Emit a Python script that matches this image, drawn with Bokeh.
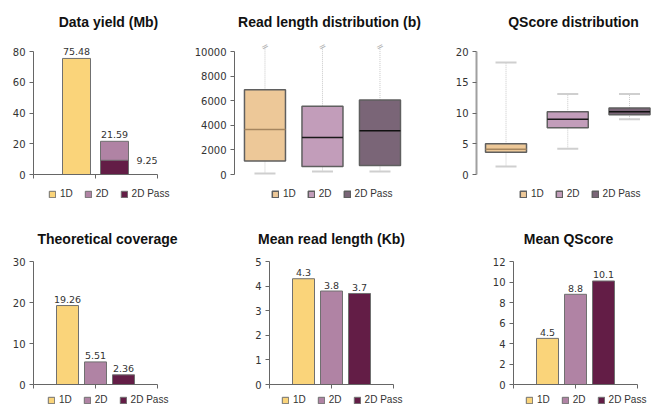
from bokeh.plotting import figure
from bokeh.layouts import column, row
from bokeh.models import (Range1d, FixedTicker, Legend, LegendItem, Label,
                          ColumnDataSource, LinearAxis, CustomLabelingPolicy)
from bokeh.embed import file_html
from bokeh.resources import INLINE
from bokeh.core.properties import value

# ---------------- data ----------------
categories = ["1D", "2D", "2D Pass"]

yield_mb = [75.48, 21.59, 9.25]
yield_ticks = [0, 20, 40, 60, 80]

coverage = [19.26, 5.51, 2.36]
coverage_ticks = [0, 10, 20, 30]

mean_len_kb = [4.3, 3.8, 3.7]
mean_len_ticks = [0, 1, 2, 3, 4, 5]

mean_q = [4.5, 8.8, 10.1]
mean_q_ticks = [0, 2, 4, 6, 8, 10, 12]

# read length distribution (b): whiskers run off the top of the scale (axis break)
len_low = [80, 240, 240]
len_q1 = [1100, 650, 730]
len_med = [3650, 3000, 3550]
len_q3 = [6900, 5550, 6050]
len_high = [10400, 10400, 10400]
len_ticks = [0, 2000, 4000, 6000, 8000, 10000]

q_low = [1.3, 4.2, 9.0]
q_q1 = [3.6, 7.6, 9.7]
q_med = [4.1, 9.0, 10.2]
q_q3 = [5.0, 10.2, 10.8]
q_high = [18.2, 13.1, 13.1]
q_ticks = [0, 5, 10, 15, 20]

titles = ["Data yield (Mb)", "Read length distribution (b)", "QScore distribution",
          "Theoretical coverage", "Mean read length (Kb)", "Mean QScore"]

# ---------------- style ----------------
BAR_COLORS = ["#FAD47A", "#B083A4", "#631D46"]
BOX_COLORS = ["#EDC898", "#C29DBA", "#7A6577"]
MED_COLORS = ["#A6865F", "#1A1A1A", "#111111"]
TITLE_FONT = "Liberation Sans"
TICK_FONT = "DejaVu Sans"
LEG_FONT = "Liberation Sans"
W, H = 658, 405


def style_axis(ax, ticks, labels=True, color="#666666", width=1):
    ax.ticker = FixedTicker(ticks=ticks)
    ax.minor_tick_line_color = None
    ax.major_tick_in = 0
    ax.major_tick_out = 4
    ax.axis_line_color = color
    ax.axis_line_width = width
    ax.major_tick_line_color = "#666666"
    ax.major_label_text_font = TICK_FONT
    ax.major_label_text_color = "#333333"
    if labels:
        ax.major_label_standoff = 4
        ax.major_label_text_font_size = "10px"
    else:
        ax.major_label_standoff = 0
        ax.major_label_text_font_size = "1px"
        ax.major_label_policy = CustomLabelingPolicy(code="return new Set()")


def make_fig(box, axis_left, x_left_val, x_unit, zero_px, top_px, ticks,
             title, title_cx, title_cy, axis_color="#666666", axis_width=1):
    """Frame spans the whole box.  x: x_left_val at page px axis_left (x_unit px per
    unit); y: 0 at page px zero_px, ticks[-1] at page px top_px."""
    x0, y0, x1, y1 = box
    unit = ticks[-1] / float(zero_px - top_px)
    yr = (-(y1 - zero_px) * unit, (zero_px - y0) * unit)
    xr = (x_left_val - (axis_left - x0) / x_unit, x_left_val + (x1 - axis_left) / x_unit)
    p = figure(width=x1 - x0, height=y1 - y0,
               x_range=Range1d(*xr), y_range=Range1d(*yr),
               output_backend="svg", toolbar_location=None,
               min_border_left=0, min_border_right=0,
               min_border_top=0, min_border_bottom=0,
               x_axis_type=None, y_axis_type=None)
    p.outline_line_color = None
    p.background_fill_color = "white"
    p.border_fill_color = "white"
    p.add_layout(Label(x=title_cx - x0, y=y1 - title_cy, x_units="screen",
                       y_units="screen", text=title, text_align="center",
                       text_baseline="middle", text_font=TITLE_FONT,
                       text_font_size="14px", text_font_style="bold",
                       text_color="#111111"))
    ya = LinearAxis(fixed_location=x_left_val)
    style_axis(ya, ticks, color=axis_color, width=axis_width)
    ya.bounds = (0, ticks[-1])
    p.add_layout(ya, "left")
    return p


def add_x_axis(p, lo, hi):
    xa = LinearAxis(fixed_location=0)
    style_axis(xa, [lo, (lo + hi) / 2, hi], labels=False)
    xa.bounds = (lo, hi)
    p.add_layout(xa, "below")


def add_legend(p, renderers, indices, vx, vy):
    items = []
    for cat, r, idx in zip(categories, renderers, indices):
        if idx is None:
            items.append(LegendItem(label=cat, renderers=[r]))
        else:
            items.append(LegendItem(label=cat, renderers=[r], index=idx))
    leg = Legend(items=items, orientation="horizontal", location=(vx, vy),
                 glyph_width=8, glyph_height=8, label_standoff=4, spacing=11,
                 padding=0, margin=0, border_line_alpha=0, background_fill_alpha=0,
                 label_text_font=LEG_FONT, label_text_font_size="10px",
                 label_text_color="#333333", label_height=8, label_width=0)
    p.add_layout(leg)


def label_style():
    return dict(text_font=value(TICK_FONT), text_font_size="9.5px",
                text_color="#333333")


def bar_panel(box, axis_left, vals, ticks, title, tcx, leg_left):
    half = 62 / 28.0
    p = make_fig(box, axis_left, 1 - half, 28.0, 384, 261, ticks, title, tcx, 238)
    xs = list(range(len(vals)))
    src = ColumnDataSource(dict(x=xs, top=vals, color=BAR_COLORS,
                                lab=[f"{v:g}" for v in vals]))
    r = p.vbar(x="x", top="top", bottom=0, width=22 / 28, fill_color="color",
               line_color="#707070", line_width=1, source=src)
    p.text(x="x", y="top", text="lab", source=src, text_align="center",
           text_baseline="alphabetic", y_offset=-6, **label_style())
    add_x_axis(p, 1 - half, 1 + half)
    add_legend(p, [r, r, r], [0, 1, 2], leg_left - box[0], 0)
    return p


# ---------------- panel 1: data yield ----------------
unit1 = 38.0
half1 = 62 / unit1
p1 = make_fig((0, 0, 192, 205), 33, 0.5 - half1, unit1, 174, 51, yield_ticks,
              titles[0], 108, 21)
pos1 = {"1D": 0, "2D": 1, "2D Pass": 1}
bw1 = 28 / unit1
rends1 = []
for cat, v, c in zip(categories, yield_mb, BAR_COLORS):
    rends1.append(p1.vbar(x=[pos1[cat]], top=[v], bottom=0, width=bw1, fill_color=c,
                          line_color="#707070", line_width=1))
p1.text(x=[pos1[c] for c in categories[:2]], y=yield_mb[:2],
        text=[f"{v:g}" for v in yield_mb[:2]], text_align="center",
        text_baseline="alphabetic", y_offset=-7, **label_style())
p1.text(x=[pos1["2D Pass"] + bw1 / 2], y=[yield_mb[2]], text=[f"{yield_mb[2]:g}"],
        text_align="left", text_baseline="middle", x_offset=8, **label_style())
add_x_axis(p1, 0.5 - half1, 0.5 + half1)
add_legend(p1, rends1, [None, None, None], 48, 6)


def box_panel(p, low, q1, med, q3, high, bw, cw, caps_top=True):
    xs = list(range(len(categories)))
    src = ColumnDataSource(dict(x=xs, low=low, q1=q1, med=med, q3=q3, high=high,
                                color=BOX_COLORS, mcol=MED_COLORS,
                                l=[x - bw / 2 for x in xs], r=[x + bw / 2 for x in xs],
                                cl=[x - cw / 2 for x in xs], cr=[x + cw / 2 for x in xs]))
    p.segment(x0="x", y0="q3", x1="x", y1="high", line_color="#c8c8c8",
              line_dash="1 1", line_width=1, source=src)
    p.segment(x0="x", y0="low", x1="x", y1="q1", line_color="#c8c8c8",
              line_dash="1 1", line_width=1, source=src)
    p.segment(x0="cl", y0="low", x1="cr", y1="low", line_color="#cfcfcf",
              line_width=2, source=src)
    if caps_top:
        p.segment(x0="cl", y0="high", x1="cr", y1="high", line_color="#cfcfcf",
                  line_width=2, source=src)
    r = p.vbar(x="x", bottom="q1", top="q3", width=bw, fill_color="color",
               line_color="#5f5f5f", line_width=1.5, source=src)
    p.segment(x0="l", y0="med", x1="r", y1="med", line_color="mcol",
              line_width=1.5, source=src)
    return r, src


# ---------------- panel 2: read length distribution ----------------
unit2 = 57.5
p2 = make_fig((192, 0, 450, 205), 234, -0.53, unit2, 174, 51, len_ticks,
              titles[1], 329, 21)
r2, src2 = box_panel(p2, len_low, len_q1, len_med, len_q3, len_high,
                     41 / unit2, 21 / unit2, caps_top=False)
p2.text(x="x", y="high", text=value("="), source=src2, angle=0.5,
        text_align="center", text_baseline="middle", text_color="#b0b0b0",
        text_font=value(TICK_FONT), text_font_size="9px")
add_legend(p2, [r2, r2, r2], [0, 1, 2], 271 - 192, 6)

# ---------------- panel 3: QScore distribution ----------------
unit3 = 61.75
p3 = make_fig((450, 0, W, 205), 476, -0.478, unit3, 174, 51, q_ticks,
              titles[2], 573, 21, axis_color="#a0a0a0", axis_width=2)
r3, src3 = box_panel(p3, q_low, q_q1, q_med, q_q3, q_high, 41 / unit3, 21 / unit3)
add_legend(p3, [r3, r3, r3], [0, 1, 2], 519 - 450, 6)

# ---------------- row 2 ----------------
p4 = bar_panel((0, 205, 210, H), 33, coverage, coverage_ticks, titles[3], 107, 47)
p5 = bar_panel((210, 205, 460, H), 269, mean_len_kb, mean_len_ticks, titles[4], 331, 281)
p6 = bar_panel((460, 205, W, H), 513, mean_q, mean_q_ticks, titles[5], 568, 525)

layout = column(row(p1, p2, p3), row(p4, p5, p6))
open("out.html", "w").write(file_html(layout, INLINE))
